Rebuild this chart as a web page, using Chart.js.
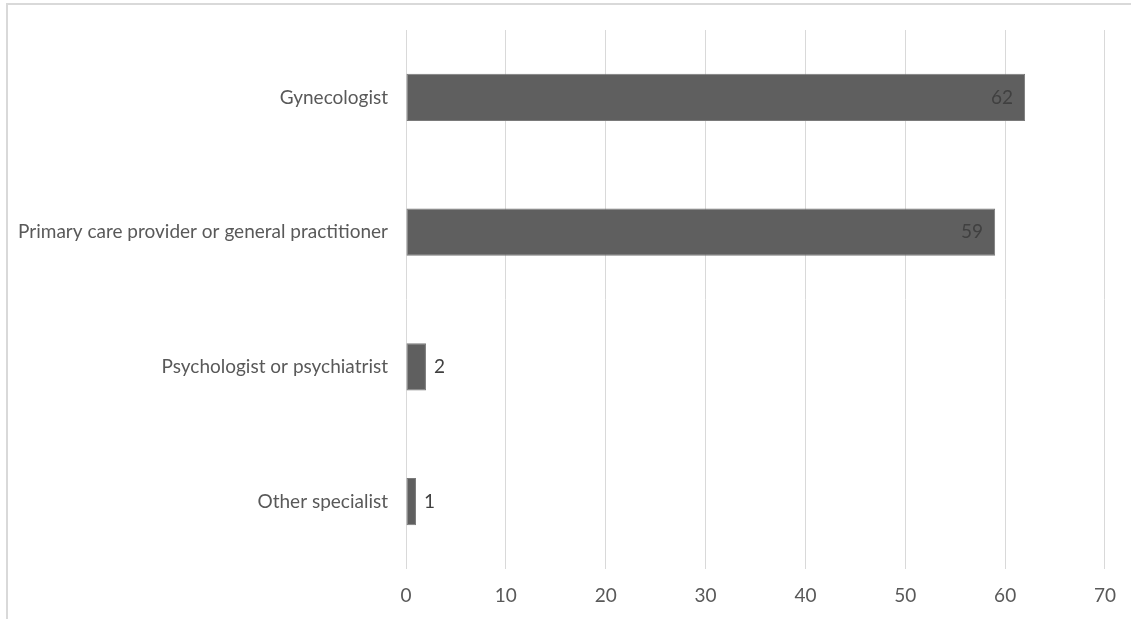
<!DOCTYPE html>
<html lang="en">
<head>
  <meta charset="UTF-8" />
  <title>Provider type</title>
  <script src="https://cdn.jsdelivr.net/npm/chart.js"></script>
  <style>
    html, body {
      margin: 0;
      padding: 0;
      background: #fff;
      overflow: hidden;
    }
    .frame {
      position: absolute;
      left: 6px;
      top: 3px;
      width: 1140px;
      height: 640px;
      border-left: 2px solid #d9d9d9;
      border-top: 2px solid #d9d9d9;
    }
    .chart-box {
      position: absolute;
      left: 0;
      top: 0;
      width: 1131px;
      height: 619px;
    }
  </style>
</head>
<body>
  <div class="frame"></div>
  <div class="chart-box">
    <canvas id="barChart" width="1131" height="619"></canvas>
  </div>

  <script>
    const categories = [
      "Gynecologist",
      "Primary care provider or general practitioner",
      "Psychologist or psychiatrist",
      "Other specialist"
    ];
    const counts = [62, 59, 2, 1];
    const xTicks = [0, 10, 20, 30, 40, 50, 60, 70];

    // Excel-style labels: inside end for long bars, outside end for short ones
    const valueLabels = {
      id: "valueLabels",
      afterDatasetsDraw(chart) {
        const ctx = chart.ctx;
        const meta = chart.getDatasetMeta(0);
        ctx.save();
        ctx.font = "19px Lato";
        ctx.textBaseline = "middle";
        ctx.fillStyle = "#404040";
        meta.data.forEach((bar, i) => {
          const v = counts[i];
          if (v > 10) {
            ctx.textAlign = "right";
            ctx.fillText(String(v), bar.x - 12, bar.y);
          } else {
            ctx.textAlign = "left";
            ctx.fillText(String(v), bar.x + 8, bar.y);
          }
        });
        ctx.restore();
      }
    };

    new Chart(document.getElementById("barChart"), {
      type: "bar",
      data: {
        labels: categories,
        datasets: [{
          data: counts,
          backgroundColor: "#5f5f5f",
          borderColor: "#7a7a7a",
          borderWidth: 1,
          borderSkipped: false,
          categoryPercentage: 1,
          barPercentage: 0.35
        }]
      },
      options: {
        indexAxis: "y",
        responsive: false,
        animation: false,
        layout: {
          padding: { left: 0, right: 26, top: 30, bottom: 0 }
        },
        plugins: {
          legend: { display: false },
          tooltip: { enabled: false }
        },
        scales: {
          x: {
            min: 0,
            max: 70,
            afterBuildTicks(scale) {
              scale.ticks = xTicks.map(v => ({ value: v }));
            },
            afterFit(scale) {
              scale.height = 50;
            },
            grid: {
              color: "#d9d9d9",
              lineWidth: 1,
              drawTicks: false
            },
            border: { display: false },
            ticks: {
              color: "#595959",
              font: { family: "Lato", size: 19 },
              padding: 15
            }
          },
          y: {
            afterFit(scale) {
              scale.width = 406;
            },
            grid: { display: false, drawTicks: false },
            border: { display: false },
            ticks: {
              color: "#595959",
              font: { family: "Lato", size: 19 },
              padding: 18
            }
          }
        }
      },
      plugins: [valueLabels]
    });
  </script>
</body>
</html>
